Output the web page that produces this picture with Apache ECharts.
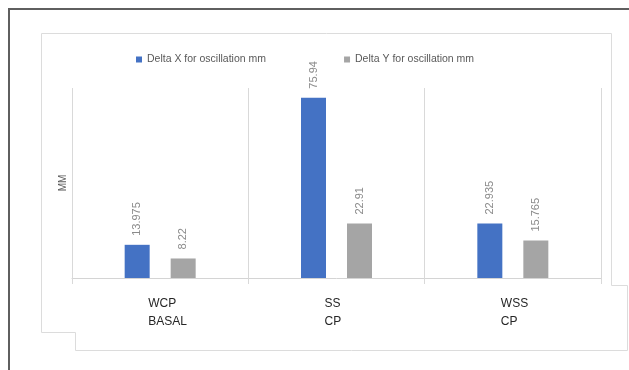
<!DOCTYPE html>
<html>
<head>
<meta charset="utf-8">
<script src="https://cdn.jsdelivr.net/npm/echarts@6/dist/echarts.min.js"></script>
<style>
  html, body { margin: 0; padding: 0; background: #ffffff; }
  #chart { width: 629px; height: 370px; }
</style>
</head>
<body>
<div id="chart"></div>
<script>
// Oscillation displacement per condition (mm)
const categories = ['WCP\nBASAL', 'SS\nCP', 'WSS\nCP'];
const seriesNames = ['Delta X for oscillation mm', 'Delta Y for oscillation mm'];
const deltaX = [13.975, 75.94, 22.935];
const deltaY = [8.22, 22.91, 15.765];
const yAxisTitle = 'MM';

const chart = echarts.init(document.getElementById('chart'), null, { renderer: 'canvas' });

const labelStyle = {
  show: true,
  position: 'top',
  rotate: 90,
  align: 'left',
  verticalAlign: 'middle',
  distance: 9,
  color: '#8a8a8a',
  fontSize: 11,
  fontFamily: 'Liberation Sans'
};

chart.setOption({
  animation: false,
  backgroundColor: '#ffffff',
  textStyle: { fontFamily: 'Liberation Sans' },
  graphic: [
    {
      // outer frame (left and top edges)
      type: 'polyline',
      z: -20,
      silent: true,
      shape: { points: [[9, 370], [9, 9], [629, 9]] },
      style: { stroke: '#5f5f5f', lineWidth: 2, fill: null }
    },
    {
      // chart panel outline
      type: 'polygon',
      z: -10,
      silent: true,
      shape: {
        points: [
          [41.5, 33.5], [611.5, 33.5], [611.5, 285.5], [627.5, 285.5],
          [627.5, 350.5], [75.5, 350.5], [75.5, 332.5], [41.5, 332.5]
        ]
      },
      style: { stroke: '#dcdcdc', lineWidth: 1, fill: '#ffffff' }
    }
  ],
  legend: {
    data: seriesNames,
    icon: 'rect',
    itemWidth: 6,
    itemHeight: 6,
    itemGap: 78,
    left: 131,
    top: 49,
    textStyle: { fontSize: 10.5, color: '#595959', fontFamily: 'Liberation Sans' }
  },
  grid: { left: 72, right: 28, top: 88, bottom: 92, containLabel: false },
  xAxis: {
    type: 'category',
    data: categories,
    axisLine: { show: true, lineStyle: { color: '#d4d4d4', width: 1 } },
    axisTick: { show: true, length: 6, lineStyle: { color: '#d9d9d9' } },
    splitLine: { show: true, lineStyle: { color: '#d9d9d9', width: 1 } },
    axisLabel: {
      margin: 17,
      formatter: function (v) {
        return v.split('\n').map(function (s) { return '{a|' + s + '}'; }).join('\n');
      },
      rich: {
        a: {
          width: 24,
          align: 'left',
          fontSize: 12,
          lineHeight: 18,
          color: '#262626',
          fontFamily: 'Liberation Sans'
        }
      }
    }
  },
  yAxis: {
    type: 'value',
    min: 0,
    max: 80,
    axisLine: { show: false },
    axisTick: { show: false },
    axisLabel: { show: false },
    splitLine: { show: false },
    name: yAxisTitle,
    nameLocation: 'middle',
    nameGap: 4,
    nameTextStyle: { color: '#595959', fontSize: 10, fontFamily: 'Liberation Sans' }
  },
  series: [
    {
      name: seriesNames[0],
      type: 'bar',
      data: deltaX,
      barWidth: 25,
      barGap: '84%',
      itemStyle: { color: '#4472C4' },
      label: labelStyle
    },
    {
      name: seriesNames[1],
      type: 'bar',
      data: deltaY,
      barWidth: 25,
      barGap: '84%',
      itemStyle: { color: '#A5A5A5' },
      label: labelStyle
    }
  ]
});
</script>
</body>
</html>
